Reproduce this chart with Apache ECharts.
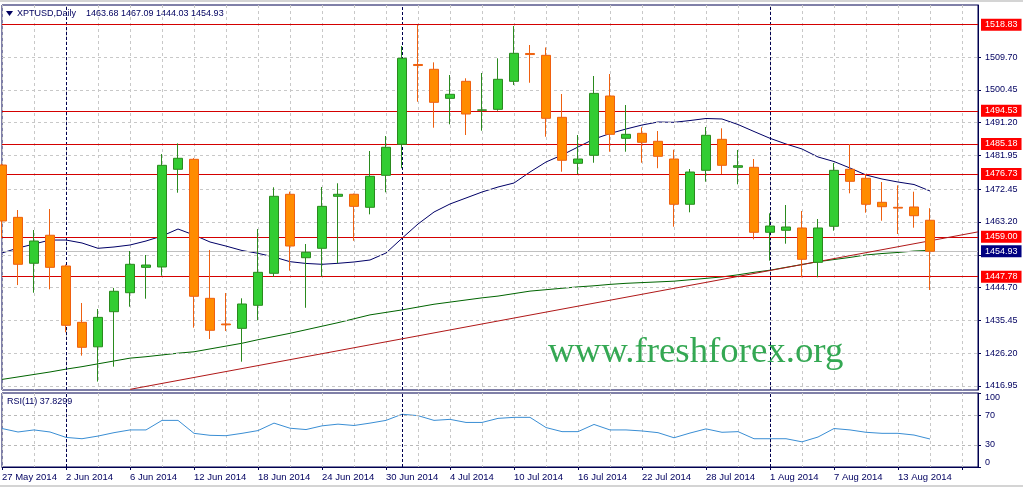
<!DOCTYPE html>
<html><head><meta charset="utf-8">
<script src="https://cdn.jsdelivr.net/npm/echarts@6/dist/echarts.min.js"></script>
<style>html,body{margin:0;padding:0;background:#fff;}#c{width:1023px;height:487px;}</style>
</head><body><div id="c"></div>
<script>
const dates = ['27 May 2014','28 May 2014','29 May 2014','30 May 2014','2 Jun 2014','3 Jun 2014','4 Jun 2014','5 Jun 2014','6 Jun 2014','9 Jun 2014',
'10 Jun 2014','11 Jun 2014','12 Jun 2014','13 Jun 2014','16 Jun 2014','17 Jun 2014','18 Jun 2014','19 Jun 2014','20 Jun 2014','23 Jun 2014',
'24 Jun 2014','25 Jun 2014','26 Jun 2014','27 Jun 2014','30 Jun 2014','1 Jul 2014','2 Jul 2014','3 Jul 2014','4 Jul 2014','7 Jul 2014',
'8 Jul 2014','9 Jul 2014','10 Jul 2014','11 Jul 2014','14 Jul 2014','15 Jul 2014','16 Jul 2014','17 Jul 2014','18 Jul 2014','21 Jul 2014',
'22 Jul 2014','23 Jul 2014','24 Jul 2014','25 Jul 2014','28 Jul 2014','29 Jul 2014','30 Jul 2014','31 Jul 2014','1 Aug 2014','4 Aug 2014',
'5 Aug 2014','6 Aug 2014','7 Aug 2014','8 Aug 2014','11 Aug 2014','12 Aug 2014','13 Aug 2014','14 Aug 2014','15 Aug 2014',
'18 Aug 2014','19 Aug 2014','20 Aug 2014'];
const barCount = 59;

const opens = [1479.25,1464.5,1451.55,1459.45,1450.78,1434.9,1428.0,1437.9,1443.25,1450.4,
1450.5,1478.05,1480.86,1441.67,1434.43,1433.2,1439.7,1448.72,1471.0,1453.12,
1455.77,1470.43,1471.0,1467.33,1476.35,1485.1,1507.6,1506.24,1498.05,1502.85,
1494.7,1494.95,1502.85,1510.7,1510.18,1492.7,1479.73,1481.99,1498.71,1486.78,
1488.19,1485.94,1480.95,1468.18,1477.76,1486.5,1478.61,1478.61,1460.28,1460.85,
1461.5,1451.82,1461.97,1478.05,1475.51,1468.74,1467.33,1467.42,1463.68];
const closes = [1463.47,1451.26,1457.83,1450.4,1434.06,1427.86,1436.3,1443.65,1451.26,1451.06,
1479.17,1481.15,1442.24,1432.65,1434.2,1440.07,1449.0,1470.43,1456.42,1454.65,
1467.6,1471.0,1467.6,1476.07,1484.25,1509.34,1507.3,1496.93,1499.19,1493.63,
1494.8,1503.42,1510.75,1510.4,1492.42,1480.58,1480.95,1499.45,1487.91,1487.91,
1485.65,1481.71,1468.18,1477.28,1487.63,1479.17,1479.06,1460.28,1462.05,1461.78,
1452.67,1461.5,1477.76,1474.66,1468.18,1467.5,1467.1,1464.96,1454.93];
const lows = [1458.67,1445.4,1443.25,1444.2,1432.1,1425.5,1418.2,1422.4,1439.3,1441.56,
1448.05,1471.45,1433.4,1430.2,1432.45,1423.8,1435.47,1447.76,1449.45,1439.0,
1447.76,1451.55,1457.9,1465.35,1471.56,1478.35,1497.1,1489.77,1490.73,1487.71,
1488.93,1494.56,1501.81,1502.45,1487.23,1477.37,1476.72,1479.9,1483.0,1483.0,
1479.9,1478.35,1461.86,1465.92,1474.55,1476.72,1473.81,1458.31,1452.28,1457.07,
1447.6,1447.6,1460.73,1471.28,1465.81,1463.55,1459.8,1461.58,1444.03];
const highs = [1479.6,1466.57,1460.93,1466.85,1451.2,1440.35,1438.65,1444.6,1455.0,1453.88,
1482.35,1485.35,1481.2,1455.3,1443.17,1441.67,1461.2,1472.97,1471.73,1456.98,
1473.05,1474.1,1471.2,1483.2,1487.43,1512.8,1518.73,1508.2,1504.63,1503.7,
1505.2,1509.34,1518.45,1513.09,1512.4,1499.27,1487.71,1504.35,1504.91,1496.17,
1489.88,1488.84,1483.57,1478.13,1489.97,1489.6,1483.49,1480.95,1465.64,1467.98,
1466.29,1464.03,1479.82,1485.18,1476.72,1474.46,1473.51,1471.73,1467.09];

const maFast = [1454.45,1455.85,1456.98,1458.1,1458.1,1457.27,1455.77,1456.14,1456.7,1457.83,
1459.24,1461.21,1459.52,1457.55,1456.4,1455.15,1454.36,1453.32,1452.0,1451.5,
1451.26,1451.54,1451.91,1452.47,1454.45,1458.6,1462.62,1466.0,1468.27,1469.95,
1471.64,1473.05,1474.18,1477.28,1480.1,1482.07,1484.33,1486.58,1488.13,1489.4,
1490.53,1491.38,1491.29,1491.8,1492.37,1492.23,1490.67,1488.7,1486.78,1485.18,
1483.77,1481.52,1480.24,1478.41,1476.44,1475.31,1474.46,1473.76,1471.93];
const maSlow = [1418.8,1419.5,1420.2,1420.9,1421.7,1422.4,1423.2,1424.0,1424.8,1425.2,
1425.7,1426.2,1426.6,1427.4,1428.2,1429.0,1430.0,1430.9,1431.8,1432.8,
1433.8,1434.8,1435.9,1437.0,1437.7,1438.4,1439.2,1440.0,1440.6,1441.2,
1441.8,1442.3,1443.0,1443.7,1444.1,1444.5,1444.9,1445.2,1445.6,1445.9,
1446.1,1446.3,1446.5,1446.9,1447.3,1447.7,1448.3,1449.0,1449.6,1450.4,
1451.2,1452.0,1452.6,1453.2,1453.9,1454.3,1454.6,1455.0,1455.2];
const rsi = [52.0,47.3,50.1,47.3,40.0,38.2,41.8,46.4,50.1,50.1,
63.0,63.0,45.5,42.8,42.3,45.5,49.2,59.3,52.4,50.6,
55.6,57.9,56.1,59.3,63.0,71.3,69.4,63.0,64.4,60.2,
60.2,65.7,67.1,67.1,53.3,47.8,47.8,57.5,50.1,50.1,
48.7,46.4,39.5,45.9,51.5,46.9,47.8,38.2,38.2,38.2,
34.0,40.5,52.0,50.1,46.9,45.5,45.5,43.2,37.8299];

const levels = [1518.83, 1494.53, 1485.18, 1476.73, 1459.00, 1447.78];
const yTicks = [1416.95, 1426.20, 1435.45, 1444.70, 1453.95, 1463.20, 1472.45, 1481.95, 1491.20, 1500.45, 1509.70];
const rsiTicks = [0, 30, 70, 100];
const rsiGridLevels = [30, 70];
const separators = ['2 Jun 2014', '1 Jul 2014', '1 Aug 2014'];
const trendline = [['6 Jun 2014', 1416.0], ['20 Aug 2014', 1460.4]];

const FONT = 'Liberation Sans';
const NAVY = '#000060';
const GRIDC = '#C8C8C8';
const lastIdx = barCount - 1;
const lastPrice = closes[lastIdx];

const candles = opens.map((o, i) => [o, closes[i], lows[i], highs[i]]);

const chart = echarts.init(document.getElementById('c'), null, {renderer: 'canvas'});

const boxLabel = (bg) => ({
  show: true, position: 'end', distance: 3,
  formatter: p => Number(p.value).toFixed(2),
  backgroundColor: bg, color: '#fff', fontFamily: FONT, fontSize: 9,
  padding: [2, 4, 1, 4], lineHeight: 9
});

const mainMarks = [].concat(
  yTicks.map(v => ({yAxis: v, lineStyle: {color: GRIDC, type: [3, 3], width: 1}, label: {show: false}})),
  separators.map(d => ({xAxis: d, lineStyle: {color: '#000050', type: [3, 2], width: 1}, label: {show: false}})),
  [{yAxis: lastPrice, lineStyle: {color: '#C0C0C0', type: 'solid', width: 1}, label: boxLabel('#000080')}],
  levels.map(v => ({yAxis: v, lineStyle: {color: '#D40000', type: 'solid', width: 1}, label: boxLabel('#FF0000')})),
  [[{coord: trendline[0], lineStyle: {color: '#B01818', type: 'solid', width: 1}, label: {show: false}}, {coord: trendline[1]}]]
);

const option = {
  animation: false,
  backgroundColor: '#fff',
  grid: [
    {left: 2, top: 5, width: 976, height: 385, show: true, borderColor: '#000050', borderWidth: 1, outerBoundsMode: 'none', containLabel: false},
    {left: 2, top: 393, width: 976, height: 74, show: true, borderColor: '#000050', borderWidth: 1, outerBoundsMode: 'none', containLabel: false}
  ],
  xAxis: [
    {gridIndex: 0, type: 'category', data: dates, boundaryGap: false,
     axisLine: {show: false}, axisTick: {show: false}, axisLabel: {show: false},
     splitLine: {show: true, interval: 1, lineStyle: {color: GRIDC, type: [3, 3]}}},
    {gridIndex: 1, type: 'category', data: dates, boundaryGap: false,
     axisLine: {show: true, lineStyle: {color: '#000050'}},
     axisTick: {show: true, interval: 3, length: 3, lineStyle: {color: '#000050'}},
     axisLabel: {show: true, interval: 3, align: 'left', margin: 5, color: NAVY, fontFamily: FONT, fontSize: 9.5,
       formatter: (v, i) => (i <= lastIdx ? v : '')},
     splitLine: {show: true, interval: 1, lineStyle: {color: GRIDC, type: [3, 3]}}}
  ],
  yAxis: [
    {gridIndex: 0, type: 'value', position: 'right', min: 1415.82, max: 1524.37,
     axisLine: {show: true, lineStyle: {color: '#000050'}},
     axisTick: {show: true, length: 3, customValues: yTicks, lineStyle: {color: '#000050'}},
     axisLabel: {show: true, customValues: yTicks, formatter: v => Number(v).toFixed(2), margin: 7,
       color: NAVY, fontFamily: FONT, fontSize: 9},
     splitLine: {show: false}},
    {gridIndex: 1, type: 'value', position: 'right', min: 0, max: 100,
     axisLine: {show: true, lineStyle: {color: '#000050'}},
     axisTick: {show: true, length: 3, customValues: rsiTicks, lineStyle: {color: '#000050'}},
     axisLabel: {show: true, customValues: rsiTicks, margin: 7, color: NAVY, fontFamily: FONT, fontSize: 9,
       verticalAlignMinLabel: 'bottom', verticalAlignMaxLabel: 'top'},
     splitLine: {show: false}}
  ],
  series: [
    {type: 'line', name: 'marks', xAxisIndex: 0, yAxisIndex: 0, data: closes, z: 1,
     symbol: 'none', lineStyle: {opacity: 0, width: 0}, silent: true,
     markLine: {silent: true, symbol: ['none', 'none'], animation: false, data: mainMarks}},
    {type: 'line', name: 'MA slow', xAxisIndex: 0, yAxisIndex: 0, data: maSlow, z: 3,
     symbol: 'none', lineStyle: {color: '#006400', width: 1}},
    {type: 'line', name: 'MA fast', xAxisIndex: 0, yAxisIndex: 0, data: maFast, z: 3,
     symbol: 'none', lineStyle: {color: '#000066', width: 1}},
    {type: 'candlestick', name: 'XPTUSD', xAxisIndex: 0, yAxisIndex: 0, data: candles, z: 5,
     barWidth: 9, clip: true,
     itemStyle: {color: '#32CD32', color0: '#FF8C00', borderColor: '#2A8A1E', borderColor0: '#EE6010', borderWidth: 1}},
    {type: 'line', name: 'RSI', xAxisIndex: 1, yAxisIndex: 1, data: rsi, z: 3,
     symbol: 'none', lineStyle: {color: '#3A8ED4', width: 1},
     markLine: {silent: true, symbol: ['none', 'none'], animation: false, label: {show: false},
       data: [].concat(
         rsiGridLevels.map(v => ({yAxis: v, lineStyle: {color: '#B8B8B8', type: [3, 3], width: 1}})),
         separators.map(d => ({xAxis: d, lineStyle: {color: '#000050', type: [3, 2], width: 1}}))
       )}}
  ],
  graphic: [
    {type: 'rect', shape: {x: 0, y: 0, width: 1023, height: 2}, style: {fill: '#D4D4D4'}, silent: true},
    {type: 'rect', shape: {x: 0, y: 485, width: 1023, height: 2}, style: {fill: '#D4D4D4'}, silent: true},
    {type: 'polygon', shape: {points: [[6, 11], [13, 11], [9.5, 16]]}, style: {fill: NAVY}, silent: true},
    {type: 'text', x: 17, y: 14, style: {text: 'XPTUSD,Daily', fill: NAVY, font: '9px "Liberation Sans"', verticalAlign: 'middle'}, silent: true},
    {type: 'text', x: 86, y: 14, style: {text: [opens[lastIdx], highs[lastIdx], lows[lastIdx], closes[lastIdx]].map(v => v.toFixed(2)).join(' '),
      fill: NAVY, font: '9px "Liberation Sans"', verticalAlign: 'middle'}, silent: true},
    {type: 'text', x: 7, y: 402, style: {text: 'RSI(11) ' + rsi[lastIdx].toFixed(4), fill: NAVY, font: '9px "Liberation Sans"', verticalAlign: 'middle'}, silent: true},
    {type: 'text', x: 548, y: 352, z: 10, style: {text: 'www.freshforex.org', fill: '#34A853', font: '36.8px "Liberation Serif"', verticalAlign: 'middle'}, silent: true}
  ]
};
chart.setOption(option);
</script>
</body></html>
